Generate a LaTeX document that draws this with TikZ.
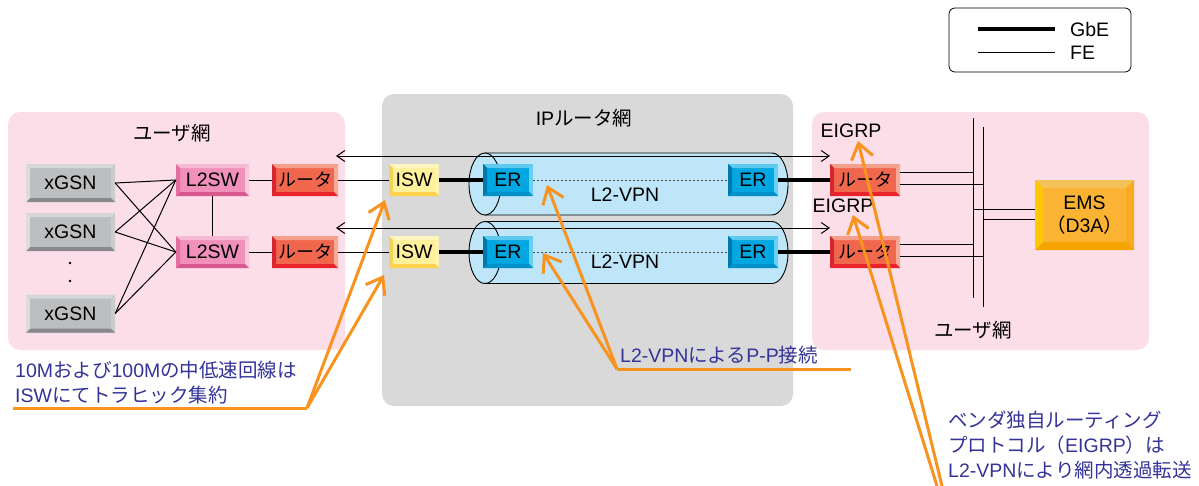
\documentclass[tikz,border=0pt]{standalone}
\usepackage{fontspec}
\setmainfont{Liberation Sans}
\newfontfamily\jpfont{Noto Sans CJK JP}
\newcommand{\jtext}[1]{{\jpfont #1}}
\usetikzlibrary{arrows.meta,calc}

\definecolor{zonepink}{HTML}{FCDEE9}
\definecolor{zonegray}{HTML}{D9D9D9}
\definecolor{tubeblue}{HTML}{BEE6F8}
\definecolor{callorange}{HTML}{F7931E}
\definecolor{callblue}{HTML}{333399}
% bevel colours: face, top, right, bottom, left
\definecolor{gsnF}{HTML}{BDBEC0}\definecolor{gsnT}{HTML}{D6D7D9}\definecolor{gsnR}{HTML}{CBCCCE}\definecolor{gsnB}{HTML}{88898C}\definecolor{gsnL}{HTML}{DCDDDF}
\definecolor{lswF}{HTML}{F190BA}\definecolor{lswT}{HTML}{F6B9D3}\definecolor{lswR}{HTML}{F8C8DC}\definecolor{lswB}{HTML}{D9588E}\definecolor{lswL}{HTML}{E36FA1}
\definecolor{rtF}{HTML}{F0674D}\definecolor{rtT}{HTML}{F49F8B}\definecolor{rtR}{HTML}{F6AA97}\definecolor{rtB}{HTML}{E8232B}\definecolor{rtL}{HTML}{D62730}
\definecolor{iswF}{HTML}{FFF09C}\definecolor{iswT}{HTML}{FFF6BF}\definecolor{iswR}{HTML}{FFF2AE}\definecolor{iswB}{HTML}{FFD24D}\definecolor{iswL}{HTML}{F4D35A}
\definecolor{erF}{HTML}{00A7E0}\definecolor{erT}{HTML}{5FCAF0}\definecolor{erR}{HTML}{6BD0F2}\definecolor{erB}{HTML}{0090CA}\definecolor{erL}{HTML}{0077AF}
\definecolor{emsF}{HTML}{FBB333}\definecolor{emsT}{HTML}{F3C258}\definecolor{emsR}{HTML}{F9AA20}\definecolor{emsB}{HTML}{F6A500}\definecolor{emsL}{HTML}{FFC60A}

\tikzset{
  bevel/.style n args={6}{fill=#1, inner sep=0pt, path picture={
    \fill[#2] (path picture bounding box.north west) -- (path picture bounding box.north east)
      -- ([shift={(-#6,-#6)}]path picture bounding box.north east)
      -- ([shift={(#6,-#6)}]path picture bounding box.north west) -- cycle;
    \fill[#3] (path picture bounding box.north east) -- (path picture bounding box.south east)
      -- ([shift={(-#6,#6)}]path picture bounding box.south east)
      -- ([shift={(-#6,-#6)}]path picture bounding box.north east) -- cycle;
    \fill[#4] (path picture bounding box.south east) -- (path picture bounding box.south west)
      -- ([shift={(#6,#6)}]path picture bounding box.south west)
      -- ([shift={(-#6,#6)}]path picture bounding box.south east) -- cycle;
    \fill[#5] (path picture bounding box.south west) -- (path picture bounding box.north west)
      -- ([shift={(#6,-#6)}]path picture bounding box.north west)
      -- ([shift={(#6,#6)}]path picture bounding box.south west) -- cycle;
  }},
  gsnbox/.style={bevel={gsnF}{gsnT}{gsnR}{gsnB}{gsnL}{4pt}, minimum width=89pt, minimum height=38pt},
  lswbox/.style={bevel={lswF}{lswT}{lswR}{lswB}{lswL}{4pt}, minimum width=73pt, minimum height=32pt},
  rtbox/.style={bevel={rtF}{rtT}{rtR}{rtB}{rtL}{4pt}, minimum height=32pt, font=\fontsize{18}{22}\selectfont},
  iswbox/.style={bevel={iswF}{iswT}{iswR}{iswB}{iswL}{4pt}, minimum width=50pt, minimum height=32pt},
  erbox/.style={bevel={erF}{erT}{erR}{erB}{erL}{4pt}, minimum width=50pt, minimum height=32pt},
  emsbox/.style={bevel={emsF}{emsT}{emsR}{emsB}{emsL}{8pt}, minimum width=99pt, minimum height=70pt, align=center},
  zone/.style={rounded corners=12pt},
  fe/.style={line width=1pt},
  gbe/.style={line width=4.5pt},
  tube/.style={fill=tubeblue, draw=black, line width=0.9pt},
  vpnlink/.style={line width=0.8pt, gray!60!black, dash pattern=on 2pt off 2pt},
  pass/.style={fe, {Straight Barb[length=8pt,width=11pt]}-{Straight Barb[length=8pt,width=11pt]}},
  callout/.style={callorange, line width=3pt},
  calltip/.style={callout, -{Straight Barb[length=15pt,width=22pt]}},
  calltext/.style={callblue, inner sep=0pt, align=left, font=\fontsize{19.5}{25}\selectfont},
}

\begin{document}
\begin{tikzpicture}[x=1pt, y=-1pt, font=\fontsize{19.5}{23.5}\selectfont]
\useasboundingbox (0,0) rectangle (1199,485);

% network zones
\fill[zone, zonepink] (8,112) rectangle (345,350);
\fill[zone, zonegray] (382,94) rectangle (793,406);
\fill[zone, zonepink] (812,112) rectangle (1149,350);
\node (zoneL) at (172,133) {\jtext{ユーザ網}};
\node (zoneM) at (584,118) {IP\jtext{ルータ網}};
\node (zoneR) at (973,330) {\jtext{ユーザ網}};

% legend
\draw[rounded corners=6pt, line width=0.8pt] (949,8) rectangle (1131,72);
\coordinate (lg1a) at (978,29); \coordinate (lg1b) at (1055,29);
\coordinate (lg2a) at (978,52); \coordinate (lg2b) at (1055,52);
\draw[gbe] (lg1a) -- (lg1b);
\draw[fe] (lg2a) -- (lg2b);
\node[anchor=west, inner sep=0pt] (lgG) at (1070,30) {GbE};
\node[anchor=west, inner sep=0pt] (lgF) at (1070,53) {FE};

% L2-VPN tubes
\foreach \yc in {184,252.5} {
  \fill[tube] (485,\yc-31) -- (772,\yc-31) arc[start angle=90, end angle=-90, x radius=16pt, y radius=31pt] -- (485,\yc+31) -- cycle;
  \filldraw[tube] (485,\yc) ellipse[x radius=16pt, y radius=31pt];
}
\node (vpn1) at (625,195) {L2-VPN};
\node (vpn2) at (625,262) {L2-VPN};

% pass-through lines
\coordinate (p1l) at (336,156); \coordinate (p1r) at (830,156);
\coordinate (p2l) at (336,228); \coordinate (p2r) at (830,228);
\draw[pass] (p1l) -- (p1r);
\draw[pass] (p2l) -- (p2r);

% left user network
\node[gsnbox] (g1) at (70.5,183) {xGSN};
\node[gsnbox] (g2) at (70.5,232) {xGSN};
\node[gsnbox] (g3) at (70.5,313.5) {xGSN};
\fill (70,263) circle[radius=1.4pt];
\fill (70,281) circle[radius=1.4pt];
\node[lswbox] (s1) at (212.5,180) {L2SW};
\node[lswbox] (s2) at (212.5,252) {L2SW};
\node[rtbox, minimum width=66pt] (r1) at (305,180) {\jtext{ルータ}};
\node[rtbox, minimum width=66pt] (r2) at (305,252) {\jtext{ルータ}};
\foreach \g in {g1,g2,g3} {
  \draw[fe] (\g.east) -- (s1.west);
  \draw[fe] (\g.east) -- (s2.west);
}
\draw[fe] (s1.south) -- (s2.north);
\draw[fe] (s1.east) -- (r1.west);
\draw[fe] (s2.east) -- (r2.west);

% IP router network
\node[iswbox] (i1) at (414,180) {ISW};
\node[iswbox] (i2) at (414,252) {ISW};
\node[erbox] (e1) at (508,180) {ER};
\node[erbox] (e2) at (508,252) {ER};
\node[erbox] (e3) at (753,180) {ER};
\node[erbox] (e4) at (753,252) {ER};
\draw[fe] (r1.east) -- (i1.west);
\draw[fe] (r2.east) -- (i2.west);
\draw[gbe] (i1.east) -- (e1.west);
\draw[gbe] (i2.east) -- (e2.west);
\draw[vpnlink] (e1.east) -- (e3.west);
\draw[vpnlink] (e2.east) -- (e4.west);

% right user network
\node[rtbox, minimum width=70pt] (r3) at (865,180) {\jtext{ルータ}};
\node[rtbox, minimum width=70pt] (r4) at (865,252) {\jtext{ルータ}};
\draw[gbe] (e3.east) -- (r3.west);
\draw[gbe] (e4.east) -- (r4.west);
\node (eig1) at (851,131) {EIGRP};
\node (eig2) at (843,206) {EIGRP};
\node[emsbox] (ems) at (1084.5,215) {EMS\\\jtext{（}D3A\jtext{）}};

\coordinate (b1t) at (973,118); \coordinate (b1b) at (973,298);
\coordinate (b2t) at (983,127); \coordinate (b2b) at (983,307);
\draw[fe] (b1t) -- (b1b);
\draw[fe] (b2t) -- (b2b);
\foreach \r in {r3,r4} {
  \coordinate (\r u) at ([yshift=8pt]\r.east);
  \coordinate (\r d) at ([yshift=-4pt]\r.east);
  \draw[fe] (\r u) -- (\r u -| b1t);
  \draw[fe] (\r d) -- (\r d -| b2t);
}
\coordinate (emsu) at ([yshift=6pt]ems.west);
\coordinate (emsd) at ([yshift=-4pt]ems.west);
\draw[fe] (emsu -| b1t) -- (emsu);
\draw[fe] (emsd -| b2t) -- (emsd);

% callouts
\node[calltext, anchor=north west] (c1) at (15,361)
  {10M\jtext{および}100M\jtext{の中低速回線は}\\ISW\jtext{にてトラヒック集約}};
\coordinate (c1end) at (13,408); \coordinate (c1v) at (307,408);
\coordinate (c1t1) at (385,200); \coordinate (c1t2) at (384,275);
\draw[callout] (c1end) -- (c1v);
\draw[calltip] (c1v) -- (c1t1);
\draw[calltip] (c1v) -- (c1t2);

\node[calltext, anchor=west] (c2) at (620,355) {L2-VPN\jtext{による}P-P\jtext{接続}};
\coordinate (c2end) at (851,369); \coordinate (c2v) at (617,369);
\coordinate (c2t1) at (547,185); \coordinate (c2t2) at (543,253);
\draw[callout] (c2end) -- (c2v);
\draw[calltip] (c2v) -- (c2t1);
\draw[calltip] (c2v) -- (c2t2);

\node[calltext, anchor=north west] (c3) at (948,411)
  {\jtext{ベンダ独自ルーティング}\\\jtext{プロトコル（}EIGRP\jtext{）は}\\L2-VPN\jtext{により網内透過転送}};
\coordinate (c3b1) at (942,486); \coordinate (c3b2) at (937,486);
\coordinate (c3t1) at (858,141); \coordinate (c3t2) at (853,215);
\draw[calltip] (c3b1) -- (c3t1);
\draw[calltip] (c3b2) -- (c3t2);
\end{tikzpicture}
\end{document}
